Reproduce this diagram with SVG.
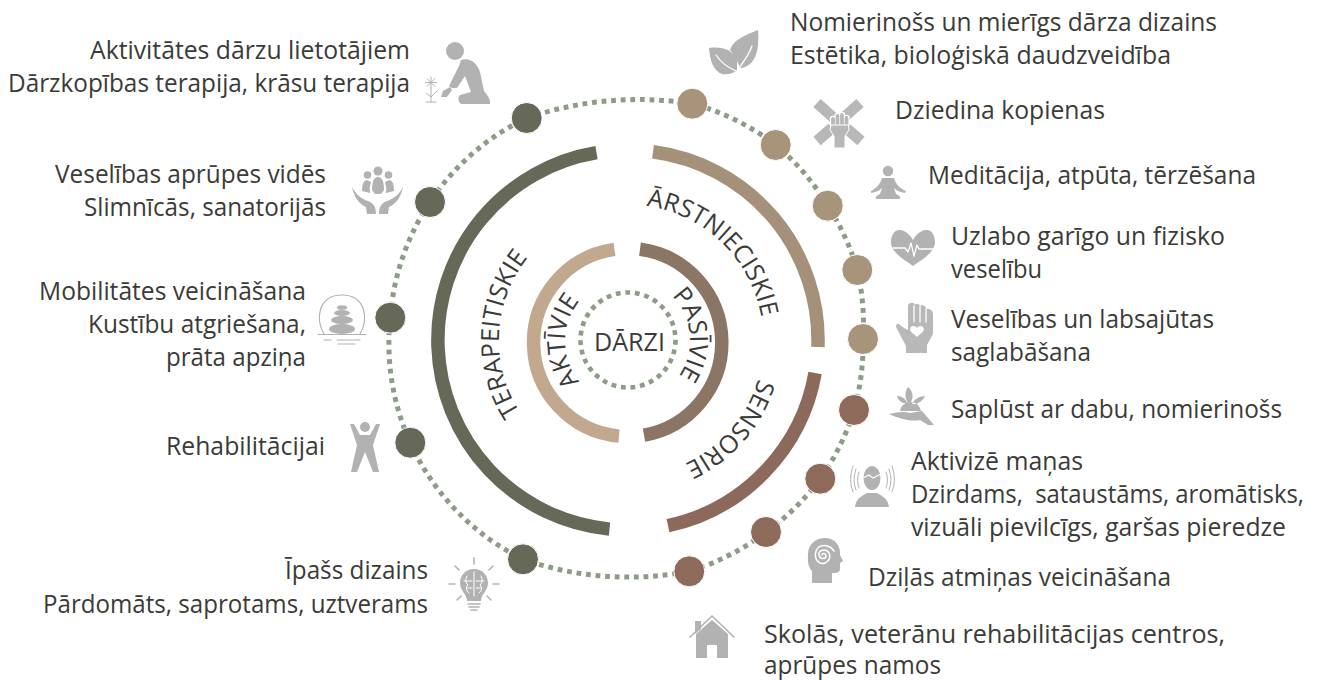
<svg xmlns="http://www.w3.org/2000/svg" width="1317" height="680" viewBox="0 0 1317 680">
<style>
text{font-family:"Open Sans","Noto Sans","Liberation Sans",sans-serif;fill:#3b3b37;font-size:25.5px}
.ring{fill:none;stroke-width:13.5}
.dots{fill:none;stroke:#8d9c88;stroke-width:5;stroke-dasharray:4.8 4.8}
.dark{fill:#666858;stroke:#fff;stroke-width:1}
.tan{fill:#a8937b;stroke:#fff;stroke-width:1}
.brown{fill:#8e6a5b;stroke:#fff;stroke-width:1}
.i{fill:#b2b2b2}
.l{fill:none;stroke:#b2b2b2;stroke-width:1.6;stroke-linecap:round}
.w{fill:none;stroke:#fff;stroke-width:1.3;stroke-linecap:round;stroke-linejoin:round}
.c{font-size:25px}
</style>
<defs>
<path id="pA" d="M628 404A63 63 0 0 1 628 278"/>
<path id="pP" d="M622.6 278.2A62 62 0 0 1 633.4 401.8"/>
<path id="pT" d="M621.300 471.800A132 132 0 0 1 634.700 208.200"/>
<path id="pR" d="M530.2 245.500A136 136 0 0 1 725.800 434.500"/>
<path id="pS" d="M717.200 237.300A136 136 0 0 1 538.800 442.700"/>
</defs>
<rect width="1317" height="680" fill="#fff"/>
<g id="connectors">
<path class="dots" d="M526.7 118A349 349 0 0 1 692.3 103.7A240 240 0 0 1 775.7 145A240 240 0 0 1 827.7 205.7A240 240 0 0 1 857.3 270A240 240 0 0 1 863 339A240 240 0 0 1 854 410A240 240 0 0 1 820.3 478.7A240 240 0 0 1 766 532A240 240 0 0 1 689.3 571.3A322 322 0 0 1 523 559.3A240 240 0 0 1 410.3 442.7A240 240 0 0 1 390.3 317.7A240 240 0 0 1 430 202A240 240 0 0 1 526.7 118Z"/>
<circle class="dots" cx="628" cy="340" r="47.5" style="stroke-width:4.6"/>
</g>
<g id="rings">
<path class="ring" stroke="#666858" d="M596.5 152.600A190 190 0 0 0 609.500 529.100"/>
<path class="ring" stroke="#a59079" d="M653 151.700A190 190 0 0 1 817.900 347"/>
<path class="ring" stroke="#8c695a" d="M815.100 373A190 190 0 0 1 668 525.700"/>
<path class="ring" stroke="#c1a88e" d="M614.500 249.400A94 94 0 0 0 619 436.100"/>
<path class="ring" stroke="#8b7565" d="M640 249.300A94 94 0 0 1 644 435.100"/>
</g>
<g id="center"><text x="594" y="351" textLength="71" lengthAdjust="spacingAndGlyphs">DĀRZI</text></g>
<g id="ring-labels">
<text class="c" text-anchor="middle"><textPath href="#pA" startOffset="50%">AKTĪVIE</textPath></text>
<text class="c" text-anchor="middle"><textPath href="#pP" startOffset="50%">PASĪVIE</textPath></text>
<text class="c" text-anchor="middle"><textPath href="#pT" startOffset="50%">TERAPEITISKIE</textPath></text>
<text class="c" text-anchor="middle"><textPath href="#pR" startOffset="50%">ĀRSTNIECISKIE</textPath></text>
<text class="c" text-anchor="middle"><textPath href="#pS" startOffset="50%">SENSORIE</textPath></text>
</g>

<g id="n-aktivitates">
<circle class="dark" cx="526.7" cy="118" r="15.5"/>
<circle class="i" cx="455" cy="51" r="9"/>
<path class="i" d="M461 60C470 57 477 63 480 72L484 91C488 96 491 100 490 104L461 104Q456 99 460 95L471 92L465 76L457 88L452 88L449 86L459 66Z"/>
<path class="i" d="M443 91L450 87L452 90L447 97L441 97Z"/>
<path class="l" style="stroke-width:1" d="M431 77V88M425.500 82.500H436.500M427 78.500L435 86.500M435 78.500L427 86.500M431 88V102M431 97L437 91M431 97L426 93M426 102H436"/>
<text x="90" y="59" textLength="320" lengthAdjust="spacingAndGlyphs">Aktivitātes dārzu lietotājiem</text>
<text x="8" y="92" textLength="402" lengthAdjust="spacingAndGlyphs">Dārzkopības terapija, krāsu terapija</text>
</g>
<g id="n-veseliba">
<circle class="dark" cx="430" cy="202" r="15.500"/>
<circle class="i" cx="378" cy="171" r="4.500"/><circle class="i" cx="367.500" cy="175" r="3.800"/><circle class="i" cx="388.500" cy="175" r="3.800"/>
<path class="i" d="M372 190Q372 177 378 177Q384 177 384 190L381 194H375ZM362 191Q362 180 367 180L371 182Q369 188 370 193ZM394 191Q394 180 389 180L385 182Q387 188 386 193Z"/>
<path class="i" d="M352 187C356 195 362 199 368 201C373 203 376 206 376 214L367 214L366 207C359 204 354 197 352 187ZM403 187C399 195 393 199 387 201C382 203 379 206 379 214L388 214L389 207C396 204 401 197 403 187Z"/>
<text x="55" y="183" textLength="271" lengthAdjust="spacingAndGlyphs">Veselības aprūpes vidēs</text>
<text x="84" y="216" textLength="242" lengthAdjust="spacingAndGlyphs">Slimnīcās, sanatorijās</text>
</g>
<g id="n-mobilitate">
<circle class="dark" cx="390.300" cy="317.700" r="15.500"/>
<path class="l" style="stroke-width:1.2" d="M324 334C315 320 318 295 342 295C366 295 369 320 360 334M318 334.500H366M324 340H331M337 340H360M338 344H355"/>
<ellipse class="i" cx="342" cy="307.500" rx="5" ry="2.300"/><ellipse class="i" cx="342" cy="313" rx="8" ry="3"/><ellipse class="i" cx="342" cy="320" rx="11" ry="4"/><ellipse class="i" cx="342" cy="329" rx="13" ry="5"/>
<text x="39" y="300" textLength="267" lengthAdjust="spacingAndGlyphs">Mobilitātes veicināšana</text>
<text x="88" y="333" textLength="218" lengthAdjust="spacingAndGlyphs">Kustību atgriešana,</text>
<text x="166" y="366" textLength="140" lengthAdjust="spacingAndGlyphs">prāta apziņa</text>
</g>
<g id="n-rehabilitacija">
<circle class="dark" cx="410.300" cy="442.700" r="15.500"/>
<circle class="i" cx="365" cy="427" r="5"/>
<path class="i" d="M350 424L354 424L360 435L370 435L376 424L380 424L373 445L379 472L373 472L365 452L357 472L351 472L357 445Z"/>
<text x="166" y="455" textLength="159" lengthAdjust="spacingAndGlyphs">Rehabilitācijai</text>
</g>
<g id="n-dizains">
<circle class="dark" cx="523" cy="559.300" r="15.500"/>
<path class="i" d="M474 569C483 569 488 576 488 583C488 591 481 594 481 601H467C467 594 460 591 460 583C460 576 465 569 474 569Z"/>
<path class="w" style="stroke-width:1" d="M474 572V596M467 576Q464 581 468 585Q464 589 469 593M481 576Q484 581 480 585Q484 589 479 593M464 581H472M476 581H484M467 588H472M476 588H481"/>
<path class="l" d="M468 604H480M469 607H479M471 610H477M474 558V564M455 566L459 570M493 566L489 570M449 584H455M493 584H499M457 600L461 596M491 600L487 596"/>
<text x="285" y="579" textLength="143" lengthAdjust="spacingAndGlyphs">Īpašs dizains</text>
<text x="43" y="613" textLength="385" lengthAdjust="spacingAndGlyphs">Pārdomāts, saprotams, uztverams</text>
</g>

<g id="n-nomierinoss">
<circle class="tan" cx="692.300" cy="103.700" r="15.500"/>
<path class="i" d="M709 48C722 46 733 50 737 60L737 70C733 74 727 75 722 74C713 71 710 60 709 48Z"/>
<path class="i" d="M758 30C759 42 758 55 752 62C748 66 744 68 740 68C738 62 732 52 730 50C733 40 745 35 758 30Z"/>
<path class="w" d="M716 55C722 64 729 68 736 71M739 68C745 60 750 52 752 46"/>
<text x="790" y="31" textLength="427" lengthAdjust="spacingAndGlyphs">Nomierinošs un mierīgs dārza dizains</text>
<text x="790" y="64" textLength="381" lengthAdjust="spacingAndGlyphs">Estētika, bioloģiskā daudzveidība</text>
</g>
<g id="n-kopienas">
<circle class="tan" cx="775.700" cy="145" r="15.500"/>
<path fill="none" stroke="#b8b8b8" stroke-width="11" d="M817 103L836 120M860 103L841 120M817 141L832 128M861 141L846 128"/>
<path fill="none" stroke="#fff" stroke-width="6.500" stroke-linecap="round" d="M833 119V124M837.500 116V124M842 115V124M846.500 118V124"/>
<path fill="none" stroke="#b8b8b8" stroke-width="3.800" stroke-linecap="round" d="M833 119V126M837.500 116V126M842 115V126M846.500 118V126"/>
<path fill="#b8b8b8" stroke="#fff" stroke-width="1" d="M831 125H848.500L849 130L845 136V148H834V136L830 130Z"/>
<text x="895" y="119" textLength="210" lengthAdjust="spacingAndGlyphs">Dziedina kopienas</text>
</g>
<g id="n-meditacija">
<circle class="tan" cx="827.700" cy="205.700" r="15.500"/>
<circle class="i" cx="888" cy="171" r="5.200"/>
<path class="i" d="M882 178H894C896 185 901 189 906 191L905 193C899 192 896 190 894 188L896 194C899 195 901 197 900 199H876C875 197 877 195 880 194L882 188C880 190 877 192 871 193L871 191C875 189 880 185 882 178Z"/>
<text x="928" y="184" textLength="328" lengthAdjust="spacingAndGlyphs">Meditācija, atpūta, tērzēšana</text>
</g>
<g id="n-garigo">
<circle class="tan" cx="857.300" cy="270" r="15.500"/>
<path class="i" d="M913 240C908 231 902 230 899 230C894 230 891 236 891 242C891 252 903 259 913 266C923 259 935 252 935 242C935 236 932 230 927 230C924 230 918 231 913 240Z"/>
<path class="w" d="M893 248H905L908 252L911 243L914 256L917 245L919 249H933"/>
<text x="951" y="245" textLength="274" lengthAdjust="spacingAndGlyphs">Uzlabo garīgo un fizisko</text>
<text x="951" y="278" textLength="91" lengthAdjust="spacingAndGlyphs">veselību</text>
</g>
<g id="n-labsajuta">
<circle class="tan" cx="863" cy="339" r="15.500"/>
<path fill="#b8b8b8" d="M908 306Q908 303 911 303H913Q915 303 915 306V305Q916 303 918 304Q920 305 921 306Q922 304 924 306Q926 306 926 308V309Q928 308 931 310Q933 311 933 314V334L927 345V353H906V346L896 327Q896 323 899 324L904 328L908 330Z"/>
<path d="M917 337C913 333 908 331 911 327C913 325 916 326 917 328C918 326 921 325 923 327C926 331 921 333 917 337Z" fill="#fff"/>
<path class="w" d="M914 306V322M920 306V322M926 309V322"/>
<text x="951" y="328" textLength="263" lengthAdjust="spacingAndGlyphs">Veselības un labsajūtas</text>
<text x="951" y="361" textLength="140" lengthAdjust="spacingAndGlyphs">saglabāšana</text>
</g>
<g id="n-dabu">
<circle class="brown" cx="854" cy="410" r="15.500"/>
<path class="i" d="M908 387C914 392 914 400 909 404C905 400 904 392 908 387ZM897 396C902 396 906 399 907 403C903 404 898 401 897 396ZM925 396C920 396 914 399 912 404C917 405 923 401 925 396ZM900 411C901 405 906 402 911 402C916 402 920 406 921 411Z"/>
<path class="i" d="M889 414C897 412 904 411 910 413L922 411L934 425L928 425L920 420C910 422 898 418 889 414Z"/>
<text x="951" y="418" textLength="331" lengthAdjust="spacingAndGlyphs">Saplūst ar dabu, nomierinošs</text>
</g>
<g id="n-manas">
<circle class="brown" cx="820.300" cy="478.700" r="15.500"/>
<ellipse class="i" cx="872" cy="478" rx="8.500" ry="12"/>
<path class="w" d="M863 478L869 475L873 478L881 474"/>
<path class="i" d="M855 507C856 498 862 496 867 493H877C882 496 888 498 889 507Z"/>
<path class="l" style="stroke-width:1" d="M859 472Q856 480 859 488M856 469Q852 480 856 490M853 466Q848 480 853 492M886 472Q889 480 886 488M889 469Q893 480 889 490M892 466Q897 480 892 492"/>
<text x="911" y="470" textLength="172" lengthAdjust="spacingAndGlyphs">Aktivizē maņas</text>
<text x="911" y="503" textLength="393" lengthAdjust="spacingAndGlyphs" xml:space="preserve">Dzirdams,  sataustāms, aromātisks,</text>
<text x="911" y="536" textLength="375" lengthAdjust="spacingAndGlyphs">vizuāli pievilcīgs, garšas pieredze</text>
</g>
<g id="n-atminas">
<circle class="brown" cx="766" cy="532" r="15.500"/>
<path class="i" d="M825 538C835 538 841 546 840 555L843 561L840 563V569C840 573 836 573 832 573V583H812V571C807 566 808 558 808 554C808 545 815 538 825 538Z"/>
<path class="w" style="stroke-width:1.500" d="M822 555C822 553 826 553 826 556C826 559 820 560 819 555C818 550 826 548 829 553C832 559 826 565 820 563C814 560 814 551 819 547C824 544 831 546 834 551"/>
<text x="868" y="586" textLength="303" lengthAdjust="spacingAndGlyphs">Dziļās atmiņas veicināšana</text>
</g>
<g id="n-skolas">
<circle class="brown" cx="689.300" cy="571.300" r="15.500"/>
<path class="i" d="M712 620L728 634V658H717V645H707V658H696V634Z"/>
<path class="l" d="M690 637L712 616L734 637"/>
<path class="i" d="M695 621H701V629L695 634Z"/>
<text x="764" y="643" textLength="461" lengthAdjust="spacingAndGlyphs">Skolās, veterānu rehabilitācijas centros,</text>
<text x="764" y="674" textLength="177" lengthAdjust="spacingAndGlyphs">aprūpes namos</text>
</g>
</svg>
